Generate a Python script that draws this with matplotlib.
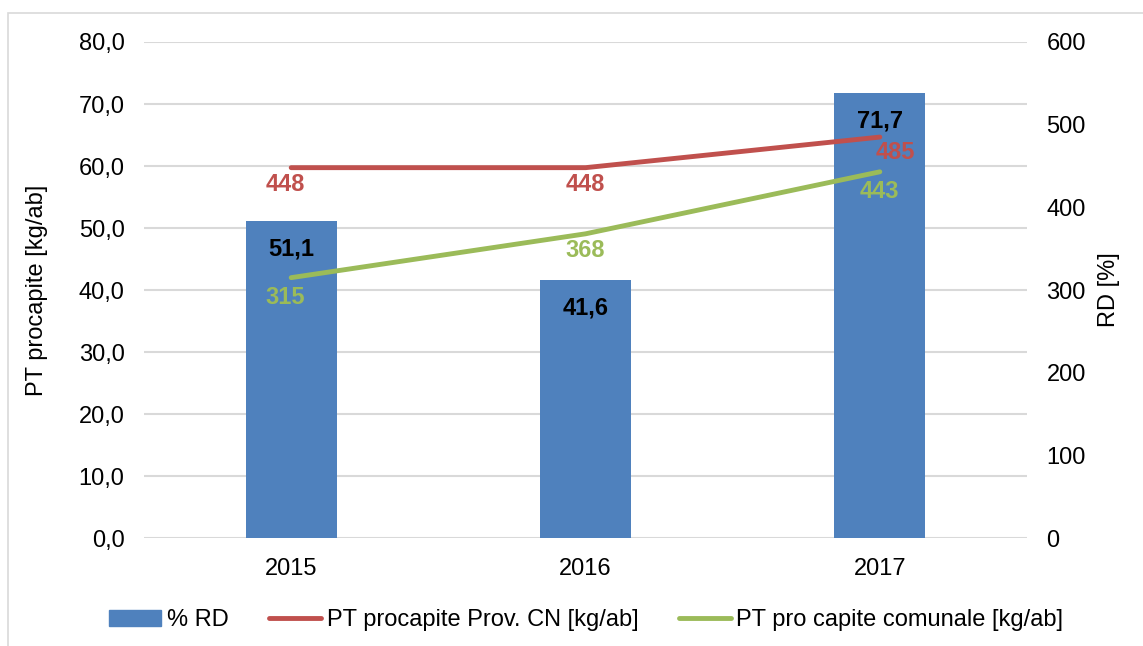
import matplotlib.pyplot as plt
from matplotlib.patches import Rectangle
from matplotlib.lines import Line2D

plt.rcParams['font.family'] = ['Liberation Sans', 'DejaVu Sans']

years = ["2015", "2016", "2017"]
rd = [51.1, 41.6, 71.7]
pt_prov = [448, 448, 485]
pt_com = [315, 368, 443]

blue = "#4F81BD"
red = "#C0504D"
green = "#9BBB59"
grid = "#D9D9D9"
fs = 17

fig = plt.figure(figsize=(11.43, 6.46), dpi=100)
ax = fig.add_axes([0.126, 0.167, 0.7725, 0.768])
ax2 = ax.twinx()

x = range(len(years))
ax.bar(x, rd, width=0.31, color=blue, zorder=2)
ax.set_ylim(0, 80)
ax.set_yticks(range(0, 81, 10))
ax.set_yticklabels([f"{v},0" for v in range(0, 81, 10)])
ax.set_xlim(-0.5, 2.5)
ax.set_xticks(list(x))
ax.set_xticklabels(years)
ax.grid(axis="y", color=grid, lw=1.5, zorder=0)
ax.set_axisbelow(True)
ax.set_ylabel("PT procapite [kg/ab]", fontsize=fs, labelpad=22)

for xi, v in zip(x, rd):
    ax.annotate(f"{v:.1f}".replace(".", ","), (xi, v), xytext=(0, -20),
                textcoords="offset points", ha="center", va="center",
                fontsize=fs, fontweight="bold", color="black")

ax2.plot(x, pt_prov, color=red, lw=3.5, solid_capstyle="round")
ax2.plot(x, pt_com, color=green, lw=3.5, solid_capstyle="round")
ax2.set_ylim(0, 600)
ax2.set_yticks(range(0, 601, 100))
ax2.set_ylabel("RD [%]", fontsize=fs, labelpad=9)

off_prov = [(-4, -12), (0, -12), (11, -11)]
for xi, v, o in zip(x, pt_prov, off_prov):
    ax2.annotate(str(v), (xi, v), xytext=o, textcoords="offset points",
                 ha="center", va="center", fontsize=fs, fontweight="bold", color=red)
off_com = [(-4, -14), (0, -12), (0, -14)]
for xi, v, o in zip(x, pt_com, off_com):
    ax2.annotate(str(v), (xi, v), xytext=o, textcoords="offset points",
                 ha="center", va="center", fontsize=fs, fontweight="bold", color=green)

for a in (ax, ax2):
    for s in a.spines.values():
        s.set_visible(False)
    a.tick_params(length=0, labelsize=fs, pad=14)

handles = [Rectangle((0, 0), 1, 1, color=blue),
           Line2D([], [], color=red, lw=3.5, solid_capstyle="round"),
           Line2D([], [], color=green, lw=3.5, solid_capstyle="round")]
labels = ["% RD", "PT procapite Prov. CN [kg/ab]", "PT pro capite comunale [kg/ab]"]
fig.legend(handles, labels, loc="center", bbox_to_anchor=(0.513, 0.04), ncol=3,
           frameon=False, fontsize=fs, handlelength=2.2, handletextpad=0.25,
           columnspacing=1.7)

# outer chart border
fig.patches.append(Rectangle((8 / 1143, -0.1), 1.2, 1.1 - 13 / 646, transform=fig.transFigure,
                             fill=False, edgecolor=grid, lw=1.2))

fig.savefig("out.png", dpi=100)
